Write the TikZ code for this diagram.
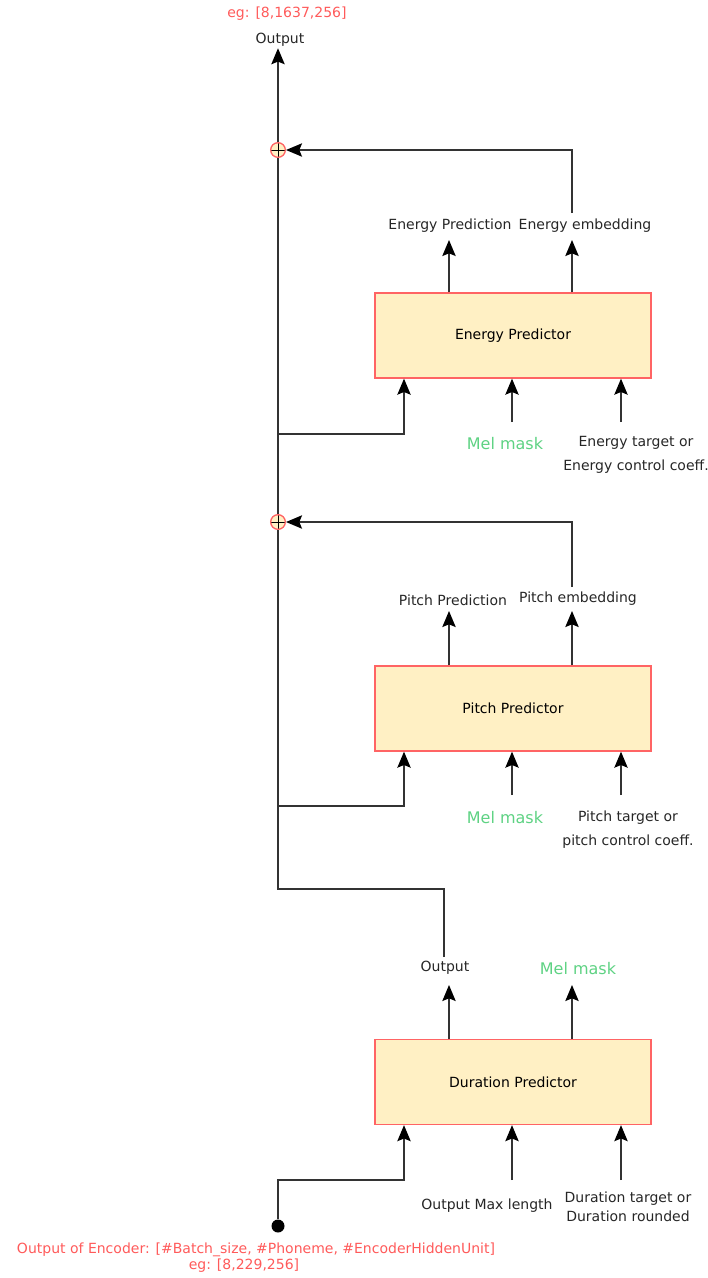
\documentclass[tikz,border=0pt]{standalone}
\usepackage{fontspec}
\setmainfont{DejaVu Sans}
\usetikzlibrary{arrows.meta}
\definecolor{boxfill}{HTML}{FFF0C4}
\definecolor{boxline}{HTML}{FF6464}
\definecolor{egred}{HTML}{FF5A5A}
\definecolor{maskgreen}{HTML}{5ED283}
\definecolor{wirecol}{HTML}{333333}

\begin{document}
\begin{tikzpicture}[x=0.75pt,y=-0.75pt,
  box/.style={draw=boxline,fill=boxfill,line width=1pt,minimum width=207pt,minimum height=63.75pt,font=\fontsize{10.5}{12}\selectfont},
  lbl/.style={font=\fontsize{10.5}{12}\selectfont,text=black!85,inner sep=1pt},
  mask/.style={font=\fontsize{12}{14}\selectfont,text=maskgreen,inner sep=1pt},
  eg/.style={font=\fontsize{10.5}{12}\selectfont,text=egred,inner sep=1pt},
  sum/.style={draw=boxline,fill=boxfill,circle,inner sep=0pt,minimum size=11pt,line width=1pt,
    path picture={\draw[black,line width=0.6pt] (path picture bounding box.north) -- (path picture bounding box.south)
      (path picture bounding box.west) -- (path picture bounding box.east);}},
  conn/.style={draw=wirecol,line width=1.1pt},
  arr/.style={conn,-{Stealth[length=12pt,width=10pt,inset=2pt,black]}}]
\useasboundingbox (0,0) rectangle (707,1278);

% predictors
\node[box] (dur) at (513,1082) {Duration Predictor};
\node[box] (pitch) at (513,708.5) {Pitch Predictor};
\node[box] (energy) at (513,335.5) {Energy Predictor};

% adders and encoder output
\node[sum] (add1) at (278,522) {};
\node[sum] (add2) at (278,150) {};
\node[circle,fill=black,inner sep=0pt,minimum size=9.75pt] (enc) at (278,1226) {};

% labels
\node[eg] (egout) at (287,14) {eg: [8,1637,256]};
\node[lbl] (out) at (280,40) {Output};
\node[lbl] (epred) at (450,226) {Energy Prediction};
\node[lbl] (eemb) at (585,226) {Energy embedding};
\node[mask] (emask) at (505,444) {Mel mask};
\node[lbl,align=center] (etgt) at (636,455) {Energy target or\\[6pt]Energy control coeff.};
\node[lbl] (ppred) at (453,600) {Pitch Prediction};
\node[lbl] (pemb) at (578,599) {Pitch embedding};
\node[mask] (pmask) at (505,818) {Mel mask};
\node[lbl,align=center] (ptgt) at (628,830) {Pitch target or\\[6pt]pitch control coeff.};
\node[lbl] (dout) at (445,968) {Output};
\node[mask] (dmask) at (578,969) {Mel mask};
\node[lbl] (dlenl) at (487,1206) {Output Max length};
\node[lbl,align=center] (dtgt) at (628,1207) {Duration target or\\[2pt]Duration rounded};
\node[eg] (encl) at (256,1250) {Output of Encoder: [\#Batch\_size, \#Phoneme, \#EncoderHiddenUnit]};
\node[eg] (encg) at (244,1266) {eg: [8,229,256]};

% free ends and bends
\coordinate (din) at (404,1180);
\coordinate (dlen) at (512,1180);
\coordinate (dtg) at (621,1180);
\coordinate (do1) at (449,985);
\coordinate (do2) at (572,985);
\coordinate (dtop) at (444,957);
\coordinate (bend) at (278,889);

\coordinate (pbr) at (278,806);
\coordinate (pin) at (404,806);
\coordinate (pmk) at (512,795);
\coordinate (ptg) at (621,795);
\coordinate (po1) at (449,611);
\coordinate (po2) at (572,611);
\coordinate (ptop) at (572,587);

\coordinate (ebr) at (278,434);
\coordinate (ein) at (404,434);
\coordinate (emk) at (512,422);
\coordinate (etg) at (621,422);
\coordinate (eo1) at (449,240);
\coordinate (eo2) at (572,240);
\coordinate (etop) at (572,213);

% duration predictor
\draw[arr] (enc) |- (din) -- (dur.south -| din);
\draw[arr] (dlen) -- (dur.south -| dlen);
\draw[arr] (dtg) -- (dur.south -| dtg);
\draw[arr] (dur.north -| do1) -- (do1);
\draw[arr] (dur.north -| do2) -- (do2);

% main line
\draw[conn] (dtop) |- (bend) -- (add1);
\draw[conn] (add1) -- (add2);
\draw[arr] (add2) -- (add2 |- out.south);

% pitch predictor
\draw[arr] (pbr) -| (pitch.south -| pin);
\draw[arr] (pmk) -- (pitch.south -| pmk);
\draw[arr] (ptg) -- (pitch.south -| ptg);
\draw[arr] (pitch.north -| po1) -- (po1);
\draw[arr] (pitch.north -| po2) -- (po2);
\draw[arr] (ptop) |- (add1);

% energy predictor
\draw[arr] (ebr) -| (energy.south -| ein);
\draw[arr] (emk) -- (energy.south -| emk);
\draw[arr] (etg) -- (energy.south -| etg);
\draw[arr] (energy.north -| eo1) -- (eo1);
\draw[arr] (energy.north -| eo2) -- (eo2);
\draw[arr] (etop) |- (add2);
\end{tikzpicture}
\end{document}
